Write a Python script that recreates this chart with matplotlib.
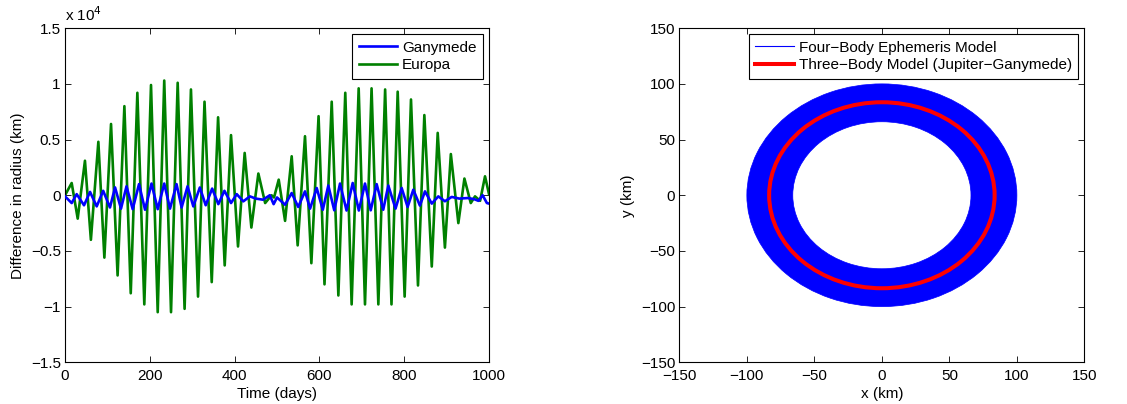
import numpy as np
import matplotlib.pyplot as plt
from matplotlib.patches import Annulus, Circle
from matplotlib.lines import Line2D

plt.rcParams['font.family'] = ['Liberation Sans', 'DejaVu Sans']

# Europa radius difference (km), turning points
europa_days = [0, 15.7, 29.9, 47, 61, 78.6, 92.8, 108.5, 124, 140, 155, 170.6, 187,
               202.8, 218.6, 234, 250, 265.7, 282, 297, 313.7, 329, 346, 361, 376.6,
               391.5, 408, 423.7, 439.5, 456, 472, 487, 493, 504, 519, 534.6, 548.7,
               566, 581, 598, 612, 629, 644.7, 661, 676, 692.6, 707.5, 723, 739, 755,
               770, 784.6, 801, 816, 832.5, 847.5, 865, 879, 896, 910, 927.7, 942, 957,
               967, 979, 990.6, 1000]
europa_km = [0, 1100, -2100, 3100, -4000, 4800, -5600, 6400, -7200, 8000, -8800, 9200,
             -9800, 9900, -10500, 10300, -10500, 10100, -10200, 9500, -9100, 8400, -7800,
             7000, -6300, 5400, -4600, 3800, -2900, 1950, -700, 0, -200, 1400, -2300, 3500,
             -4500, 5300, -6100, 7100, -8000, 8400, -9000, 9200, -9800, 9600, -9800, 9600,
             -9800, 9500, -9800, 9300, -9100, 8600, -8100, 7200, -6400, 5600, -4700, 3700,
             -2500, 1500, -700, -100, -500, 1700, 100]

# Ganymede radius difference (km)
ganymede_days = [0, 15.7, 27.5, 44.8, 59, 74.7, 90, 106, 118, 132, 145, 159.6, 174.5,
                 188.7, 204, 218.6, 234, 247.6, 263, 275, 289, 302.6, 318, 331.8, 347,
                 361.6, 376, 391.5, 405, 420.5, 436, 450, 467, 483, 492, 500, 519, 534.6,
                 550, 566, 578, 593.6, 608, 621, 635, 648.6, 664, 678.5, 693, 707.5, 721,
                 735, 750.5, 762.5, 779.5, 794, 808, 821.5, 837, 849, 865, 880.4, 896, 912,
                 930, 950, 965, 975, 985, 995, 1000]
ganymede_km = [-100, -700, 100, -900, 300, -1000, 400, -1100, 700, -1200, 800, -1250, 1000,
               -1300, 1050, -1250, 1050, -1200, 1000, -1100, 800, -1000, 700, -900, 600,
               -800, 400, -700, 100, -550, -100, -300, -400, 0, -800, -200, -850, 200,
               -1050, 350, -1200, 650, -1300, 870, -1350, 1050, -1370, 1100, -1370, 1050,
               -1350, 1000, -1300, 870, -1200, 650, -1050, 500, -930, 350, -750, -100, -540,
               -150, -300, -250, -350, -500, 0, -700, -750]

# Orbit footprint in the Jupiter-Ganymede frame (km)
ephemeris_inner_r = 66
ephemeris_outer_r = 100
three_body_r = 83.5

fig = plt.figure(figsize=(11.27, 4.04), dpi=100)
ax1 = fig.add_axes([0.0577, 0.1032, 0.3762, 0.827])
ax2 = fig.add_axes([0.6028, 0.1032, 0.3594, 0.827])

for ax in (ax1, ax2):
    ax.tick_params(direction='in', top=True, right=True, length=4, width=0.6,
                   labelsize=11)
    ax.tick_params(axis='x', pad=5)
    ax.tick_params(axis='y', pad=3)
    for s in ax.spines.values():
        s.set_linewidth(0.8)

leg_kw = dict(loc='upper right', fontsize=11, handlelength=2.5, handletextpad=0.35,
              labelspacing=0.25, borderpad=0.4, borderaxespad=0.41,
              fancybox=False, framealpha=1, edgecolor='black')

# left panel
ax1.plot(ganymede_days, np.array(ganymede_km) / 1e4, color='#0000ff', lw=1.9,
         label='Ganymede', zorder=3)
ax1.plot(europa_days, np.array(europa_km) / 1e4, color='#008000', lw=1.9,
         label='Europa', zorder=2)
ax1.set_xlim(0, 1000)
ax1.set_ylim(-1.5, 1.5)
ax1.set_xticks([0, 200, 400, 600, 800, 1000])
ax1.set_yticks([-1.5, -1, -0.5, 0, 0.5, 1, 1.5])
ax1.set_yticklabels(['\u22121.5', '\u22121', '\u22120.5', '0', '0.5', '1', '1.5'])
ax1.set_xlabel('Time (days)', fontsize=11, labelpad=3)
ax1.set_ylabel('Difference in radius (km)', fontsize=11, labelpad=4)
ax1.text(0.0, 1.012, r'x 10$^{4}$', transform=ax1.transAxes, fontsize=11,
         ha='left', va='bottom')
leg1 = ax1.legend(**leg_kw)
leg1.get_frame().set_linewidth(0.8)

# right panel
ring = Annulus((0, 0), ephemeris_outer_r, ephemeris_outer_r - ephemeris_inner_r,
               facecolor='#0000ff', edgecolor='#0000ff', lw=0.5, zorder=2)
ax2.add_patch(ring)
red = Circle((0, 0), three_body_r, fill=False, edgecolor='#ff0000', lw=2.9, zorder=3)
ax2.add_patch(red)
ax2.set_xlim(-150, 150)
ax2.set_ylim(-150, 150)
ticks = [-150, -100, -50, 0, 50, 100, 150]
tlabels = ['\u2212150', '\u2212100', '\u221250', '0', '50', '100', '150']
ax2.set_xticks(ticks)
ax2.set_xticklabels(tlabels)
ax2.set_yticks(ticks)
ax2.set_yticklabels(tlabels)
ax2.set_xlabel('x (km)', fontsize=11, labelpad=3)
ax2.set_ylabel('y (km)', fontsize=11, labelpad=4)
handles = [Line2D([], [], color='#0000ff', lw=0.8),
           Line2D([], [], color='#ff0000', lw=2.9)]
leg2 = ax2.legend(handles, ['Four\u2212Body Ephemeris Model',
                            'Three\u2212Body Model (Jupiter\u2212Ganymede)'], **leg_kw)
leg2.get_frame().set_linewidth(0.8)

fig.savefig('out.png', dpi=100)
